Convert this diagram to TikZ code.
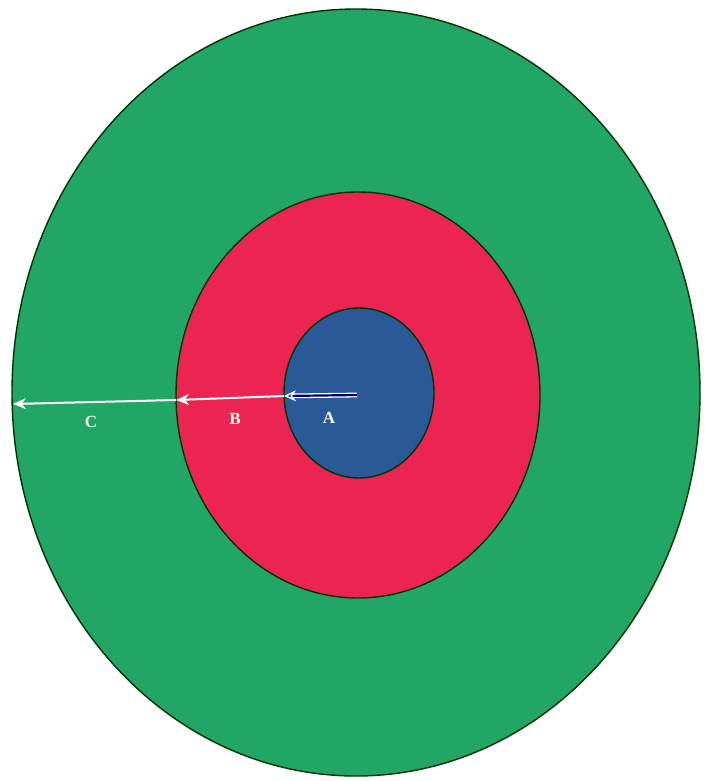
\documentclass[tikz,border=0pt]{standalone}
\usepackage{fontspec}
\setmainfont{Liberation Serif}
\usetikzlibrary{arrows.meta}
\definecolor{ringgreen}{RGB}{34,166,102}
\definecolor{ringred}{RGB}{236,36,82}
\definecolor{ringblue}{RGB}{42,90,150}
\tikzset{
  ring/.style={draw=black!80!green, line width=1.4pt},
  lbl/.style={text=white!92!green, font=\fontsize{17}{17}\selectfont\bfseries},
  warrow/.style={draw=white, line width=2pt, -{Stealth[length=13pt,width=11pt]}}
}
\begin{document}
\begin{tikzpicture}[x=1pt,y=-1pt]
\useasboundingbox (0,0) rectangle (704,781);
\fill[white] (0,0) rectangle (704,781);
\draw[ring, fill=ringgreen] (356,392.5) ellipse [x radius=344, y radius=383.5];
\draw[ring, fill=ringred] (358,395) ellipse [x radius=182, y radius=203];
\draw[ring, fill=ringblue] (359,393) ellipse [x radius=75, y radius=85];
\coordinate (o) at (357,395);
\coordinate (pa) at (284,396);
\coordinate (pb) at (176,400);
\coordinate (pc) at (13,404);
\draw[draw=white, line width=1.3pt, double=black!60!blue, double distance=2.2pt,
      -{Stealth[length=12pt,width=11pt,open]}] (o) -- (pa);
\draw[warrow] (pa) -- (pb);
\draw[warrow] (pb) -- (pc);
\node[lbl] (la) at (329,418) {A};
\node[lbl] (lb) at (235,419) {B};
\node[lbl] (lc) at (91,422) {C};
\end{tikzpicture}
\end{document}
